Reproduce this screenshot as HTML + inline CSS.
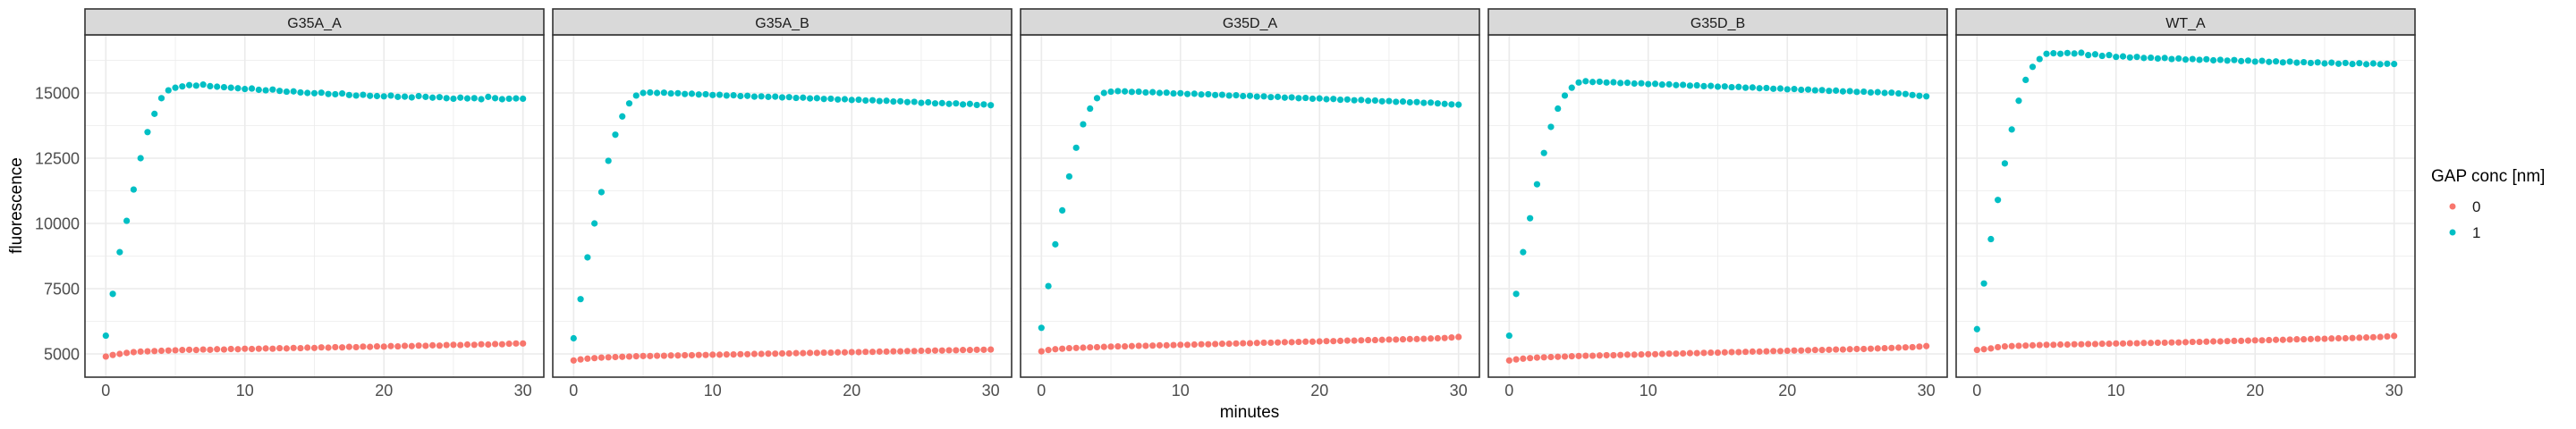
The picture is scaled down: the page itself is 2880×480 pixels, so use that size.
<!DOCTYPE html>
<html><head><meta charset="utf-8">
<style>
html,body{margin:0;padding:0;background:#fff;}
svg{display:block;font-family:"Liberation Sans",sans-serif;}
</style></head>
<body>
<svg id="chart" width="2880" height="480" viewBox="0 0 2880 480" xmlns="http://www.w3.org/2000/svg">
<g id="panels"></g>
<text x="1397" y="467" text-anchor="middle" font-size="19" fill="#000">minutes</text>
<text transform="translate(24,230) rotate(-90)" text-anchor="middle" font-size="19" fill="#000">fluorescence</text>
<g>
<text x="2718" y="203" font-size="19" fill="#000">GAP conc [nm]</text>
<circle cx="2742" cy="231" r="3.5" fill="#F8766D"/>
<text x="2764" y="237" font-size="17" fill="#1a1a1a">0</text>
<circle cx="2742" cy="260" r="3.5" fill="#00BFC4"/>
<text x="2764" y="266" font-size="17" fill="#1a1a1a">1</text>
</g>
</svg>
<script>
const panelNames = ["G35A_A","G35A_B","G35D_A","G35D_B","WT_A"];
const xTicks = [0,10,20,30];
const yTicks = [5000,7500,10000,12500,15000];
const yTickLabels = ["5000","7500","10000","12500","15000"];
const times = [];
for (let i = 0; i <= 60; i++) times.push(i * 0.5);
const cyan_G35A_A = [5700,7300,8900,10100,11300,12500,13500,14200,14800,15100,15200,
15250,15300,15280,15320,15260,15240,15220,15200,15180,15150,
15170,15120,15100,15130,15080,15050,15060,15020,15000,14990,
15010,14960,14950,14980,14920,14900,14930,14890,14880,14870,
14900,14850,14860,14830,14880,14850,14820,14840,14800,14780,
14820,14790,14800,14760,14850,14800,14760,14780,14790,14780];
const red_G35A_A = [4900,4960,5000,5040,5070,5090,5100,5110,5120,5130,5140,
5150,5160,5150,5170,5160,5180,5170,5190,5180,5200,
5190,5200,5210,5200,5220,5210,5230,5220,5240,5230,
5250,5240,5260,5250,5270,5260,5280,5270,5290,5280,
5300,5290,5310,5300,5320,5310,5330,5320,5340,5350,
5340,5360,5350,5370,5360,5380,5370,5390,5400,5400];
const cyan_G35A_B = [5600,7100,8700,10000,11200,12400,13400,14100,14600,14900,15000,
15020,15000,15010,14980,14990,14960,14970,14940,14950,14920,
14930,14900,14910,14880,14890,14860,14870,14850,14860,14830,
14840,14810,14820,14790,14800,14770,14780,14750,14760,14730,
14740,14710,14720,14690,14700,14670,14680,14650,14660,14620,
14640,14600,14610,14580,14600,14560,14580,14540,14560,14530];
const red_G35A_B = [4750,4790,4820,4840,4860,4870,4880,4890,4900,4910,4920,
4920,4930,4930,4940,4940,4950,4950,4960,4960,4970,
4970,4980,4980,4990,4990,5000,5000,5010,5010,5020,
5020,5030,5030,5040,5040,5050,5050,5060,5060,5070,
5070,5080,5080,5090,5090,5100,5100,5110,5110,5120,
5120,5130,5130,5140,5140,5150,5150,5160,5160,5170];
const cyan_G35D_A = [6000,7600,9200,10500,11800,12900,13800,14400,14800,15000,15050,
15070,15060,15040,15050,15020,15030,15000,15010,14980,14990,
14960,14970,14940,14950,14920,14930,14900,14910,14880,14890,
14860,14870,14840,14850,14820,14830,14800,14810,14780,14790,
14760,14770,14740,14750,14720,14730,14700,14710,14680,14690,
14660,14670,14640,14650,14620,14630,14600,14580,14560,14550];
const red_G35D_A = [5100,5150,5180,5200,5220,5230,5240,5250,5260,5270,5280,
5290,5290,5300,5310,5310,5320,5330,5330,5340,5350,
5350,5360,5370,5370,5380,5390,5390,5400,5410,5410,
5420,5430,5430,5440,5450,5450,5460,5470,5470,5480,
5490,5490,5500,5510,5510,5520,5530,5530,5540,5550,
5550,5560,5570,5570,5580,5590,5600,5610,5630,5650];
const cyan_G35D_B = [5700,7300,8900,10200,11500,12700,13700,14400,14900,15200,15400,
15450,15420,15430,15400,15410,15380,15390,15360,15370,15340,
15350,15320,15330,15300,15310,15280,15290,15260,15270,15240,
15250,15220,15230,15200,15210,15180,15190,15160,15170,15140,
15150,15120,15130,15100,15110,15080,15090,15060,15070,15040,
15050,15020,15030,15000,15010,14980,14960,14920,14890,14870];
const red_G35D_B = [4750,4790,4820,4840,4860,4870,4880,4890,4900,4910,4920,
4930,4930,4940,4950,4950,4960,4970,4970,4980,4990,
4990,5000,5010,5010,5020,5030,5030,5040,5050,5050,
5060,5070,5070,5080,5090,5090,5100,5110,5110,5120,
5130,5130,5140,5150,5150,5160,5170,5170,5180,5190,
5190,5200,5210,5220,5230,5240,5250,5260,5280,5300];
const cyan_WT_A = [5950,7700,9400,10900,12300,13600,14700,15500,16000,16300,16500,
16520,16500,16530,16510,16540,16450,16480,16420,16450,16380,
16400,16360,16380,16340,16350,16320,16340,16300,16320,16280,
16300,16270,16290,16250,16270,16240,16260,16220,16240,16200,
16230,16190,16210,16170,16200,16160,16180,16150,16170,16130,
16160,16120,16150,16110,16140,16100,16130,16100,16120,16110];
const red_WT_A = [5150,5180,5210,5260,5290,5300,5310,5320,5330,5340,5350,
5350,5360,5360,5370,5370,5380,5380,5390,5390,5400,
5400,5410,5410,5420,5420,5430,5430,5440,5440,5450,
5460,5460,5470,5480,5480,5490,5500,5500,5510,5520,
5520,5530,5540,5540,5550,5560,5560,5570,5580,5580,
5590,5600,5600,5610,5620,5630,5640,5650,5670,5690];
const cyanSeries = [cyan_G35A_A,cyan_G35A_B,cyan_G35D_A,cyan_G35D_B,cyan_WT_A];
const redSeries = [red_G35A_A,red_G35A_B,red_G35D_A,red_G35D_B,red_WT_A];

const NS = "http://www.w3.org/2000/svg";
const root = document.getElementById("panels");
const PANEL_W = 513, PANEL_STEP = 523, PANEL_X0 = 95;
const TOP = 39, BOTTOM = 422, STRIP_TOP = 10;
const X_MIN = -1.5, X_MAX = 31.5, Y_MIN = 4110, Y_MAX = 17226;
function mk(tag, attrs, parent) {
  const e = document.createElementNS(NS, tag);
  for (const k in attrs) e.setAttribute(k, attrs[k]);
  parent.appendChild(e);
  return e;
}
panelNames.forEach((name, p) => {
  const x0 = PANEL_X0 + p * PANEL_STEP;
  const sx = v => x0 + (v - X_MIN) / (X_MAX - X_MIN) * PANEL_W;
  const sy = v => BOTTOM - (v - Y_MIN) / (Y_MAX - Y_MIN) * (BOTTOM - TOP);
  const g = mk("g", {}, root);
  
  
  const bg = mk("rect", {x: x0, y: TOP, width: PANEL_W, height: BOTTOM - TOP, fill: "#fff"}, g);
  
  
  // minor grid
  const xMinor = [5, 15, 25];
  xMinor.forEach(v => {
    const l = mk("line", {x1: sx(v), x2: sx(v), y1: TOP, y2: BOTTOM, stroke: "#EBEBEB", "stroke-width": 0.8}, g);
    
    
  });
  for (let i = 0; i < yTicks.length; i++) {
    const v = yTicks[i] + 1250;
    const l = mk("line", {x1: x0, x2: x0 + PANEL_W, y1: sy(v), y2: sy(v), stroke: "#EBEBEB", "stroke-width": 0.8}, g);
    
    
  }
  xTicks.forEach(v => {
    const l = mk("line", {x1: sx(v), x2: sx(v), y1: TOP, y2: BOTTOM, stroke: "#EBEBEB", "stroke-width": 1.6}, g);
    
    
    const t = mk("text", {x: sx(v), y: 443, "text-anchor": "middle", "font-size": 18, fill: "#4D4D4D"}, g);
    t.textContent = String(v);
    
    
  });
  yTicks.forEach((v, i) => {
    const l = mk("line", {x1: x0, x2: x0 + PANEL_W, y1: sy(v), y2: sy(v), stroke: "#EBEBEB", "stroke-width": 1.6}, g);
    
    
    if (p === 0) {
      const t = mk("text", {x: 89, y: sy(v) + 6.5, "text-anchor": "end", "font-size": 18, fill: "#4D4D4D"}, g);
      t.textContent = yTickLabels[i];
      
      
    }
  });
  const reds = redSeries[p], cyans = cyanSeries[p];
  times.forEach((t, i) => {
    const c = mk("circle", {cx: sx(t), cy: sy(reds[i]), r: 3.6, fill: "#F8766D"}, g);
    
    
  });
  times.forEach((t, i) => {
    const c = mk("circle", {cx: sx(t), cy: sy(cyans[i]), r: 3.6, fill: "#00BFC4"}, g);
    
    
  });
  const border = mk("rect", {x: x0, y: TOP, width: PANEL_W, height: BOTTOM - TOP, fill: "none", stroke: "#333333", "stroke-width": 1.6}, g);
  
  
  const strip = mk("rect", {x: x0, y: STRIP_TOP, width: PANEL_W, height: TOP - STRIP_TOP, fill: "#D9D9D9", stroke: "#333333", "stroke-width": 1.6}, g);
  
  
  const st = mk("text", {x: x0 + PANEL_W / 2, y: 31, "text-anchor": "middle", "font-size": 16, fill: "#1A1A1A"}, g);
  st.textContent = name;
  
  
});
</script>
</body></html>
